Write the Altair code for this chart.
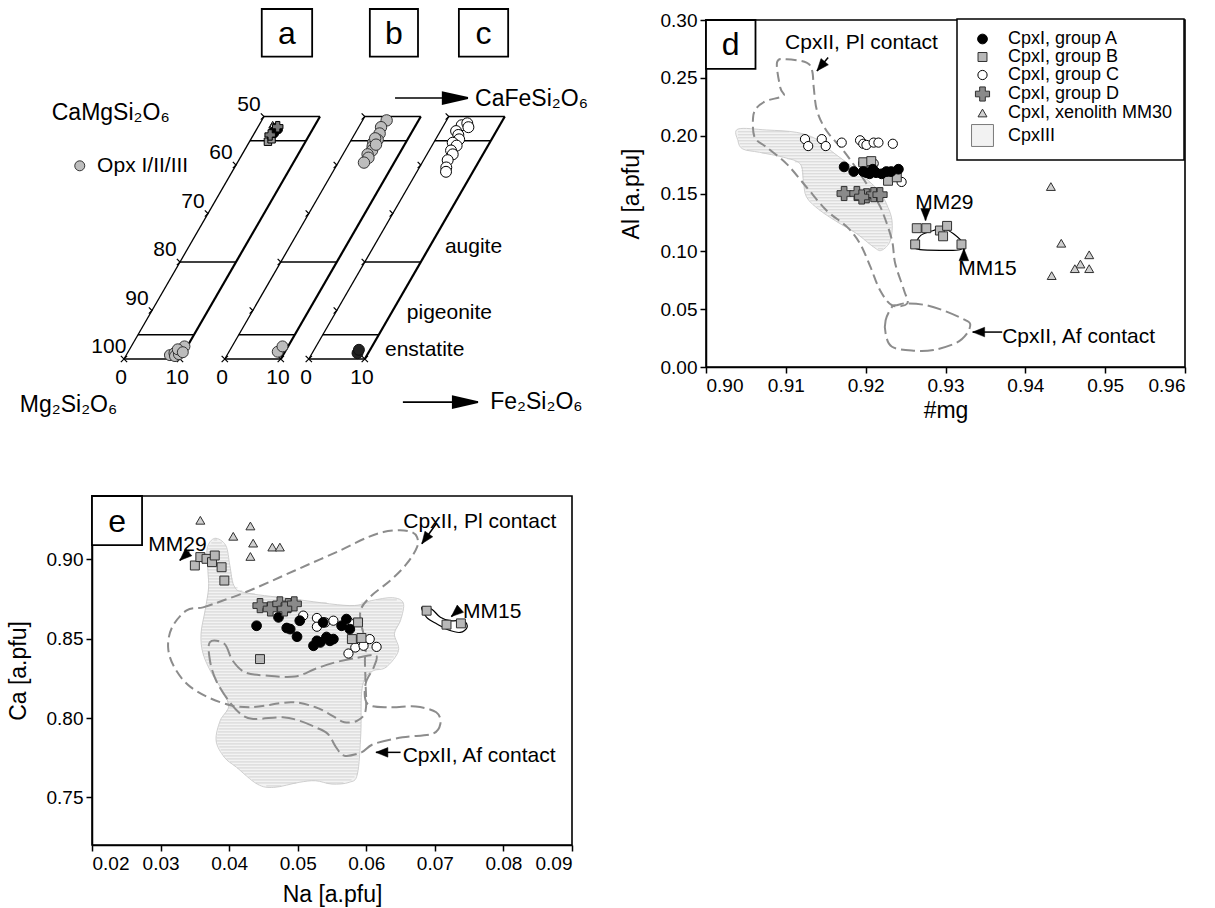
import math
import altair as alt
import numpy as np
import pandas as pd

FONT = "Liberation Sans, DejaVu Sans"
S3 = math.sqrt(3) / 2
W_ALL, H_ALL = 1215, 908

# ======================= panels a, b, c : Wo-En-Fs quadrilateral =======================
panel_offsets = [0, 18, 33]          # horizontal offset (Fs units) of panels a, b, c
panel_letters = ["a", "b", "c"]
fs_max = 10
wo_max = 50
boundary_wo = [0, 5, 20, 45, 50]
tick_wo = [10, 20, 30, 40, 50]
en_wo = [50, 40, 30, 20, 10, 0]
en_labels = ["50", "60", "70", "80", "90", "100"]

a_A_fs = [3.2, 3.6, 3.9]
a_A_wo = [47.0, 46.5, 47.3]
a_B_fs = [3.3, 3.7]
a_B_wo = [44.8, 45.3]
a_C_fs = [2.9]
a_C_wo = [47.8]
a_D_fs = [3.0, 3.5]
a_D_wo = [46.2, 47.9]
a_T_fs = [2.4, 2.7]
a_T_wo = [48.3, 47.6]
a_opx_fs = [7.8, 8.4, 8.8, 9.0, 9.3, 9.5, 8.6, 9.8]
a_opx_wo = [0.8, 1.2, 0.6, 1.8, 1.0, 2.6, 2.0, 1.4]
b_cpx_fs = [4.3, 4.0, 4.4, 4.7, 4.2, 4.5, 4.8, 4.4, 4.9, 4.6, 4.1, 4.9]
b_cpx_wo = [49.2, 47.8, 46.5, 45.2, 44.6, 43.8, 43.0, 42.2, 41.5, 40.5, 45.5, 44.2]
b_opx_fs = [8.7, 9.0]
b_opx_wo = [1.5, 2.6]
c_cpx_fs = [3.2, 4.0, 4.6, 2.8, 3.6, 4.2, 3.4, 4.4, 3.9, 4.6, 4.3, 4.8, 5.2]
c_cpx_wo = [48.2, 48.6, 47.8, 47.0, 46.2, 45.3, 44.6, 44.0, 43.0, 42.2, 41.0, 39.5, 38.6]
c_opx_fs = [8.1, 8.0]
c_opx_wo = [1.2, 1.9]

# annotation positions in diagram units (u = offset + Fs + Wo/2, v = Wo*sqrt(3)/2)
abc_formula = ["CaMgSi₂O₆", "Mg₂Si₂O₆", "CaFeSi₂O₆", "Fe₂Si₂O₆"]
abc_formula_u = [-12.9, -18.6, 62.7, 65.4]
abc_formula_v = [43.9, -8.2, 46.4, -7.7]
abc_text = ["Opx I/II/III", "augite", "pigeonite", "enstatite"]
abc_text_u = [-4.8, 57.3, 50.5, 46.6]
abc_text_v = [34.5, 20.0, 8.2, 1.6]
opx_key_u = [-7.9]
opx_key_v = [34.5]
abc_arrow_u1 = [48.4, 49.8]
abc_arrow_u2 = [61.4, 63.2]
abc_arrow_v = [46.6, -7.7]
abc_box_u1 = [24.6, 43.9, 59.8]
abc_box_u2 = [33.6, 52.5, 68.6]
abc_box_v1 = [54.0, 54.0, 54.0]
abc_box_v2 = [62.5, 62.5, 62.5]

# ======================= panel d : Al vs #mg =======================
d_A_mg = [0.9173, 0.9185, 0.9197, 0.9205, 0.9213, 0.9220, 0.9226, 0.9232, 0.9241, 0.9209, 0.9201]
d_A_al = [0.173, 0.169, 0.169, 0.167, 0.168, 0.167, 0.169, 0.169, 0.171, 0.171, 0.168]
d_B_mg = [0.9197, 0.9207, 0.9228, 0.9239, 0.9264, 0.9276, 0.9293, 0.9302, 0.9297, 0.9262, 0.9320]
d_B_al = [0.177, 0.178, 0.161, 0.164, 0.120, 0.120, 0.118, 0.122, 0.113, 0.106, 0.106]
d_C_mg = [0.9124, 0.9128, 0.9145, 0.9150, 0.9170, 0.9193, 0.9197, 0.9201, 0.9210, 0.9216, 0.9234, 0.9245, 0.9197, 0.9210]
d_C_al = [0.197, 0.191, 0.197, 0.191, 0.194, 0.196, 0.193, 0.192, 0.194, 0.194, 0.193, 0.160, 0.176, 0.176]
d_D_mg = [0.9173, 0.9189, 0.9201, 0.9210, 0.9218, 0.9195]
d_D_al = [0.150, 0.150, 0.148, 0.149, 0.149, 0.147]
d_T_mg = [0.9432, 0.9445, 0.9480, 0.9469, 0.9462, 0.9480, 0.9433]
d_T_al = [0.156, 0.107, 0.097, 0.089, 0.085, 0.085, 0.079]

d_III_mg = [0.9040, 0.9076, 0.9113, 0.9138, 0.9159, 0.9184, 0.9201, 0.9218, 0.9226, 0.9233, 0.9231, 0.9220,
            0.9210, 0.9189, 0.9168, 0.9143, 0.9126, 0.9122, 0.9118, 0.9097, 0.9067, 0.9046, 0.9040]
d_III_al = [0.2057, 0.2049, 0.2029, 0.1971, 0.1856, 0.1727, 0.1626, 0.1511, 0.1411, 0.1267, 0.1095, 0.1009,
            0.1037, 0.1152, 0.1239, 0.1353, 0.1468, 0.1612, 0.1756, 0.1813, 0.1856, 0.1885, 0.1957]
d_pl_mg = [0.9089, 0.9101, 0.9126, 0.9133, 0.9135, 0.9139, 0.9151, 0.9172, 0.9193, 0.9214, 0.9222, 0.9233,
           0.9237, 0.9248, 0.9252, 0.9233, 0.9218, 0.9206, 0.9193, 0.9177, 0.9151, 0.9126, 0.9101, 0.9076,
           0.9061, 0.9059, 0.9064, 0.9076, 0.9097, 0.9093]
d_pl_al = [0.2634, 0.2660, 0.2632, 0.2560, 0.2416, 0.2216, 0.2043, 0.1871, 0.1670, 0.1440, 0.1325, 0.1095,
           0.0894, 0.0664, 0.0549, 0.0534, 0.0664, 0.0865, 0.1066, 0.1209, 0.1353, 0.1554, 0.1756, 0.1899,
           0.1985, 0.2158, 0.2244, 0.2302, 0.2345, 0.2416]
d_af_mg = [0.9233, 0.9225, 0.9225, 0.9233, 0.9260, 0.9285, 0.9314, 0.9327, 0.9331, 0.9325, 0.9302, 0.9276, 0.9251, 0.9239]
d_af_al = [0.0520, 0.0405, 0.0290, 0.0175, 0.0141, 0.0147, 0.0210, 0.0290, 0.0370, 0.0405, 0.0477, 0.0534, 0.0549, 0.0534]
d_loop_mg = [0.9262, 0.9269, 0.9285, 0.9297, 0.9310, 0.9322, 0.9318, 0.9293, 0.9268, 0.9260]
d_loop_al = [0.1060, 0.1138, 0.1180, 0.1195, 0.1152, 0.1066, 0.1014, 0.1009, 0.1014, 0.1037]

d_note = ["CpxII, Pl contact", "CpxII, Af contact", "MM29", "MM15"]
d_note_mg = [0.9099, 0.9371, 0.9262, 0.9316]
d_note_al = [0.2802, 0.0259, 0.1414, 0.0845]
d_arr_mg1 = [0.9153, 0.9275, 0.9323, 0.9371]
d_arr_al1 = [0.2675, 0.1335, 0.0930, 0.0302]
d_arr_mg2 = [0.9139, 0.9275, 0.9323, 0.9334]
d_arr_al2 = [0.2560, 0.1267, 0.1023, 0.0302]

# ======================= panel e : Ca vs Na =======================
e_A_na = [0.0440, 0.0472, 0.0484, 0.0489, 0.0499, 0.0503, 0.0523, 0.0533, 0.0542, 0.0547, 0.0552, 0.0537, 0.0564, 0.0571, 0.0576, 0.0528]
e_A_ca = [0.8582, 0.8635, 0.8568, 0.8561, 0.8513, 0.8614, 0.8456, 0.8477, 0.8508, 0.8487, 0.8498, 0.8603, 0.8582, 0.8624, 0.8561, 0.8487]
e_B_na = [0.0588, 0.0579, 0.0593, 0.0445, 0.0688, 0.0717, 0.0738, 0.0350, 0.0358, 0.0367, 0.0375, 0.0379, 0.0389, 0.0393]
e_B_ca = [0.8603, 0.8498, 0.8505, 0.8372, 0.8677, 0.8589, 0.8597, 0.8962, 0.9015, 0.9004, 0.8983, 0.9025, 0.8951, 0.8867]
e_C_na = [0.0508, 0.0528, 0.0528, 0.0540, 0.0552, 0.0542, 0.0575, 0.0574, 0.0584, 0.0596, 0.0605, 0.0615]
e_C_ca = [0.8646, 0.8631, 0.8576, 0.8603, 0.8614, 0.8513, 0.8603, 0.8407, 0.8445, 0.8456, 0.8498, 0.8449]
e_D_na = [0.0445, 0.0460, 0.0474, 0.0486, 0.0495, 0.0481]
e_D_ca = [0.8709, 0.8688, 0.8720, 0.8709, 0.8720, 0.8688]
e_T_na = [0.0358, 0.0406, 0.0431, 0.0435, 0.0431, 0.0463, 0.0474]
e_T_ca = [0.9247, 0.9146, 0.9211, 0.9103, 0.9019, 0.9078, 0.9078]

e_III_na = [0.0368, 0.0379, 0.0395, 0.0401, 0.0407, 0.0423, 0.0489, 0.0576, 0.0608, 0.0638, 0.0654, 0.0650,
            0.0641, 0.0647, 0.0629, 0.0611, 0.0599, 0.0593, 0.0592, 0.0587, 0.0575, 0.0550, 0.0526, 0.0502,
            0.0465, 0.0441, 0.0411, 0.0393, 0.0381, 0.0387, 0.0399, 0.0393, 0.0375, 0.0362, 0.0359, 0.0365,
            0.0370, 0.0369]
e_III_ca = [0.9070, 0.9133, 0.9089, 0.8962, 0.8835, 0.8791, 0.8753, 0.8709, 0.8741, 0.8759, 0.8725, 0.8616,
            0.8532, 0.8426, 0.8321, 0.8300, 0.8258, 0.8153, 0.7900, 0.7647, 0.7595, 0.7584, 0.7605, 0.7595,
            0.7563, 0.7584, 0.7689, 0.7753, 0.7858, 0.7984, 0.8068, 0.8153, 0.8279, 0.8405, 0.8532, 0.8680,
            0.8820, 0.8930]
e_pl_na = [0.0338, 0.0362, 0.0391, 0.0430, 0.0474, 0.0518, 0.0562, 0.0600, 0.0625, 0.0649, 0.0666, 0.0674,
           0.0674, 0.0659, 0.0635, 0.0605, 0.0591, 0.0599, 0.0598, 0.0599, 0.0599, 0.0587, 0.0568, 0.0550,
           0.0526, 0.0490, 0.0429, 0.0387, 0.0344, 0.0320, 0.0311, 0.0317]
e_pl_ca = [0.8679, 0.8698, 0.8741, 0.8804, 0.8888, 0.8973, 0.9057, 0.9136, 0.9173, 0.9184, 0.9173, 0.9141,
           0.9078, 0.8973, 0.8867, 0.8761, 0.8658, 0.8468, 0.8363, 0.8216, 0.8047, 0.7984, 0.7974, 0.8016,
           0.8068, 0.8100, 0.8068, 0.8100, 0.8195, 0.8321, 0.8447, 0.8574]
e_af_na = [0.0372, 0.0393, 0.0405, 0.0423, 0.0453, 0.0496, 0.0526, 0.0556, 0.0587, 0.0614, 0.0611, 0.0599,
           0.0602, 0.0635, 0.0672, 0.0702, 0.0708, 0.0696, 0.0653, 0.0611, 0.0593, 0.0568, 0.0556, 0.0544,
           0.0526, 0.0502, 0.0478, 0.0435, 0.0417, 0.0399, 0.0381, 0.0372]
e_af_ca = [0.8479, 0.8468, 0.8363, 0.8289, 0.8268, 0.8262, 0.8311, 0.8353, 0.8380, 0.8395, 0.8321, 0.8216,
           0.8089, 0.8068, 0.8073, 0.8037, 0.7963, 0.7900, 0.7879, 0.7837, 0.7784, 0.7763, 0.7816, 0.7900,
           0.7942, 0.7984, 0.8005, 0.7995, 0.8026, 0.8111, 0.8237, 0.8363]
e_loop_na = [0.0681, 0.0695, 0.0708, 0.0722, 0.0742, 0.0747, 0.0737, 0.0720, 0.0703, 0.0688]
e_loop_ca = [0.8698, 0.8688, 0.8635, 0.8614, 0.8614, 0.8572, 0.8540, 0.8555, 0.8593, 0.8635]

e_note = ["CpxII, Pl contact", "CpxII, Af contact", "MM29", "MM15"]
e_note_na = [0.0654, 0.0653, 0.0282, 0.0741]
e_note_ca = [0.9234, 0.7763, 0.9089, 0.8666]
e_arr_na1 = [0.0702, 0.0650, 0.0342, 0.0736]
e_arr_ca1 = [0.9225, 0.7784, 0.9050, 0.8685]
e_arr_na2 = [0.0681, 0.0614, 0.0328, 0.0724]
e_arr_ca2 = [0.9099, 0.7784, 0.8994, 0.8640]

# ======================= styles =======================
groups = ["CpxI, group A", "CpxI, group B", "CpxI, group C", "CpxI, group D", "CpxI, xenolith MM30", "CpxIII"]
g_shapes = ["circle", "square", "circle", "cross", "triangle-up", "square"]
g_fills = ["black", "#b8b8b8", "white", "#8a8a8a", "#d0d0d0", "#f2f2f2"]
g_strokes = ["black", "#303030", "black", "#303030", "#303030", "#7a7a7a"]
g_sizes = [95, 80, 85, 200, 80, 480]

ARROW_S = "M -2 -0.8 L 0 0 L -2 0.8 Z"
ARROW_L = "M -2 -0.45 L 0 0 L -2 0.45 Z"
CHEVRON = "M -1 -1 L 0 0 L -1 1"
XMARK = "M -1 -1 L 1 1 M -1 1 L 1 -1"
NOTE_FS = 21


def poly(xs, ys):
    return pd.DataFrame({"x": xs, "y": ys, "i": list(range(len(xs)))})


def hatch(xs, ys, step):
    pts = list(zip(xs, ys))
    rows = []
    for yy in np.arange(min(ys) + step / 2, max(ys), step):
        cr = []
        for (xa, ya), (xb, yb) in zip(pts, pts[1:] + pts[:1]):
            if (ya <= yy < yb) or (yb <= yy < ya):
                cr.append(xa + (yy - ya) * (xb - xa) / (yb - ya))
        cr.sort()
        for k in range(0, len(cr) - 1, 2):
            rows.append({"x": cr[k], "x2": cr[k + 1], "y": yy})
    return pd.DataFrame(rows)


def arrows(x1, y1, x2, y2, kx, ky):
    ang = [math.degrees(math.atan2(-(b2 - b1) * ky, (a2 - a1) * kx)) % 360
           for a1, b1, a2, b2 in zip(x1, y1, x2, y2)]
    return pd.DataFrame({"x1": x1, "y1": y1, "x2": x2, "y2": y2, "ang": ang})


def points_df(sets):
    rows = []
    for g, xs, ys in sets:
        for a, b in zip(xs, ys):
            rows.append({"g": g, "x": a, "y": b})
    return pd.DataFrame(rows)


LEG = alt.Legend(title=None, orient="none", legendX=957, legendY=19, strokeColor="black", fillColor="white",
                 padding=11, labelFont=FONT, labelFontSize=18, labelLimit=400, rowPadding=0,
                 symbolStrokeWidth=1, labelOffset=14, symbolOffset=3)


def scatter_panel(X, Y, frame, region, dashed, loop, pts, notes, arr, box, letter, kx, ky, hstep):
    layers = []
    fx1, fx2, fy1, fy2 = frame
    layers.append(alt.Chart(pd.DataFrame({"x": [fx1], "x2": [fx2], "y": [fy1], "y2": [fy2]})).mark_rect(
        fillOpacity=0, stroke="black", strokeWidth=1.6).encode(x=X("x"), x2="x2:Q", y=Y("y"), y2="y2:Q"))
    hx, hy = region
    layers.append(alt.Chart(poly(hx, hy)).mark_line(
        interpolate="cardinal-closed", fill="#f3f3f3", stroke="#cfcfcf", strokeWidth=1
    ).encode(x=X("x"), y=Y("y"), order="i:Q"))
    layers.append(alt.Chart(hatch(hx, hy, hstep)).mark_rule(color="#c6c6c6", strokeWidth=0.7).encode(
        x=X("x"), x2="x2:Q", y=Y("y")))
    for (xs, ys), dash in zip(dashed, ([10, 5], [14, 5])):
        layers.append(alt.Chart(poly(xs, ys)).mark_line(
            interpolate="cardinal-closed", stroke="#8c8c8c", strokeWidth=2, strokeDash=dash
        ).encode(x=X("x"), y=Y("y"), order="i:Q"))
    lx, ly = loop
    layers.append(alt.Chart(poly(lx, ly)).mark_line(
        interpolate="cardinal-closed", stroke="black", strokeWidth=1.2
    ).encode(x=X("x"), y=Y("y"), order="i:Q"))
    layers.append(alt.Chart(pts).mark_point(filled=True, opacity=1, strokeWidth=1).encode(
        x=X("x"), y=Y("y"),
        shape=alt.Shape("g:N", scale=alt.Scale(domain=groups, range=g_shapes), legend=LEG),
        fill=alt.Fill("g:N", scale=alt.Scale(domain=groups, range=g_fills), legend=LEG),
        stroke=alt.Stroke("g:N", scale=alt.Scale(domain=groups, range=g_strokes), legend=LEG),
        size=alt.Size("g:N", scale=alt.Scale(type="ordinal", domain=groups, range=g_sizes), legend=LEG),
    ))
    ax1, ay1, ax2, ay2 = arr
    adf = arrows(ax1, ay1, ax2, ay2, kx, ky)
    layers.append(alt.Chart(adf).mark_rule(color="black", strokeWidth=1.5).encode(
        x=X("x1"), y=Y("y1"), x2="x2:Q", y2="y2:Q"))
    layers.append(alt.Chart(adf).mark_point(shape=ARROW_S, filled=True, fill="black", stroke="black",
                                            strokeWidth=0.5, size=144, opacity=1).encode(
        x=X("x2"), y=Y("y2"), angle=alt.Angle("ang:Q", scale=None)))
    nt, nx, ny = notes
    layers.append(alt.Chart(pd.DataFrame({"t": nt, "x": nx, "y": ny})).mark_text(
        align="left", baseline="middle", font=FONT, fontSize=NOTE_FS, color="black"
    ).encode(x=X("x"), y=Y("y"), text="t:N"))
    bx1, bx2, by1, by2 = box
    layers.append(alt.Chart(pd.DataFrame({"x": [bx1], "x2": [bx2], "y": [by1], "y2": [by2]})).mark_rect(
        fill="white", stroke="black", strokeWidth=1.8).encode(x=X("x"), x2="x2:Q", y=Y("y"), y2="y2:Q"))
    layers.append(alt.Chart(pd.DataFrame({"t": [letter], "x": [(bx1 + bx2) / 2], "y": [(by1 + by2) / 2]})).mark_text(
        align="center", baseline="middle", font=FONT, fontSize=32, color="black", dy=1
    ).encode(x=X("x"), y=Y("y"), text="t:N"))
    return alt.layer(*layers)


# ---------------- panel d (pixel frame: x 706..1185, y 367..20) ----------------
D_L, D_R, D_B, D_T = 706, 1185, 367, 20
D_XS = alt.Scale(domain=[0.90, 0.96], range=[D_L, D_R], nice=False, zero=False)
D_YS = alt.Scale(domain=[0.0, 0.30], range=[D_B, D_T], nice=False, zero=False)
D_XA = alt.Axis(title="#mg", orient="bottom", offset=D_B - H_ALL, titlePadding=4,
                values=[0.90, 0.91, 0.92, 0.93, 0.94, 0.95, 0.96], format=".2f")
D_YA = alt.Axis(title="Al [a.pfu]", orient="left", offset=-D_L, titlePadding=17,
                values=[0.0, 0.05, 0.10, 0.15, 0.20, 0.25, 0.30], format=".2f")


def DX(f):
    return alt.X(f + ":Q", scale=D_XS, axis=D_XA)


def DY(f):
    return alt.Y(f + ":Q", scale=D_YS, axis=D_YA)


d_pts = points_df([
    (groups[4], d_T_mg, d_T_al), (groups[2], d_C_mg, d_C_al), (groups[1], d_B_mg, d_B_al),
    (groups[0], d_A_mg, d_A_al), (groups[3], d_D_mg, d_D_al)])
panel_d = scatter_panel(
    DX, DY, (0.90, 0.96, 0.0, 0.30), (d_III_mg, d_III_al), [(d_pl_mg, d_pl_al), (d_af_mg, d_af_al)],
    (d_loop_mg, d_loop_al), d_pts, (d_note, d_note_mg, d_note_al),
    (d_arr_mg1, d_arr_al1, d_arr_mg2, d_arr_al2), (0.90, 0.9062, 0.2578, 0.30), "d",
    (D_R - D_L) / 0.06, (D_B - D_T) / 0.30, 3 * 0.30 / (D_B - D_T))

# ---------------- panel e (pixel frame: x 92..572, y 845..496) ----------------
E_L, E_R, E_B, E_T = 92, 572, 845, 496
E_XS = alt.Scale(domain=[0.02, 0.09], range=[E_L, E_R], nice=False, zero=False)
E_YS = alt.Scale(domain=[0.72, 0.94], range=[E_B, E_T], nice=False, zero=False)
E_XA = alt.Axis(title="Na [a.pfu]", orient="bottom", offset=E_B - H_ALL, titlePadding=10,
                values=[0.02, 0.03, 0.04, 0.05, 0.06, 0.07, 0.08, 0.09], format=".2f")
E_YA = alt.Axis(title="Ca [a.pfu]", orient="left", offset=-E_L, titlePadding=16,
                values=[0.75, 0.80, 0.85, 0.90], format=".2f")


def EX(f):
    return alt.X(f + ":Q", scale=E_XS, axis=E_XA)


def EY(f):
    return alt.Y(f + ":Q", scale=E_YS, axis=E_YA)


e_pts = points_df([
    (groups[4], e_T_na, e_T_ca), (groups[2], e_C_na, e_C_ca), (groups[1], e_B_na, e_B_ca),
    (groups[0], e_A_na, e_A_ca), (groups[3], e_D_na, e_D_ca)])
panel_e = scatter_panel(
    EX, EY, (0.02, 0.09, 0.72, 0.94), (e_III_na, e_III_ca), [(e_pl_na, e_pl_ca), (e_af_na, e_af_ca)],
    (e_loop_na, e_loop_ca), e_pts, (e_note, e_note_na, e_note_ca),
    (e_arr_na1, e_arr_ca1, e_arr_na2, e_arr_ca2), (0.02, 0.0273, 0.909, 0.94), "e",
    (E_R - E_L) / 0.07, (E_B - E_T) / 0.22, 3 * 0.22 / (E_B - E_T))

# ---------------- panels a-c (5.6 px per unit, origin of panel a at 124,359) ----------------
ABC_XS = alt.Scale(domain=[0, 100], range=[124, 124 + 560], nice=False, zero=False)
ABC_YS = alt.Scale(domain=[0, 50], range=[359, 359 - 280], nice=False, zero=False)


def AX(f):
    return alt.X(f + ":Q", scale=ABC_XS, axis=None)


def AY(f):
    return alt.Y(f + ":Q", scale=ABC_YS, axis=None)


def uv(off, fs, wo):
    return off + fs + wo / 2, wo * S3


edge_rows, thick_rows, chev_rows, x_rows, num_rows = [], [], [], [], []
for off in panel_offsets:
    u1, v1 = uv(off, 0, 0)
    u2, v2 = uv(off, 0, wo_max)
    edge_rows.append({"x1": u1, "y1": v1, "x2": u2, "y2": v2})
    u1, v1 = uv(off, fs_max, 0)
    u2, v2 = uv(off, fs_max, wo_max)
    thick_rows.append({"x1": u1, "y1": v1, "x2": u2, "y2": v2})
    for w in boundary_wo:
        u1, v1 = uv(off, 0, w)
        u2, v2 = uv(off, fs_max, w)
        edge_rows.append({"x1": u1, "y1": v1, "x2": u2, "y2": v2})
    for w in tick_wo:
        u, v = uv(off, 0, w)
        chev_rows.append({"x": u, "y": v})
    for f in (0, fs_max):
        u, v = uv(off, f, 0)
        x_rows.append({"x": u, "y": v})
        num_rows.append({"x": u - 0.5, "y": v - 3.4, "t": str(f)})
en_rows = []
for w, lab in zip(en_wo, en_labels):
    u, v = uv(panel_offsets[0], 0, w)
    en_rows.append({"x": u - 2.7, "y": v + 2.1, "t": lab})


def abc_pts(off, fs, wo):
    return pd.DataFrame([{"x": uv(off, f, w)[0], "y": uv(off, f, w)[1]} for f, w in zip(fs, wo)])


abc_layers = [
    alt.Chart(pd.DataFrame(edge_rows)).mark_rule(color="black", strokeWidth=1.3).encode(
        x=AX("x1"), y=AY("y1"), x2="x2:Q", y2="y2:Q"),
    alt.Chart(pd.DataFrame(thick_rows)).mark_rule(color="black", strokeWidth=2.2).encode(
        x=AX("x1"), y=AY("y1"), x2="x2:Q", y2="y2:Q"),
    alt.Chart(pd.DataFrame(chev_rows)).mark_point(shape=CHEVRON, filled=False, stroke="black",
                                                  strokeWidth=1.2, size=40, opacity=1).encode(
        x=AX("x"), y=AY("y")),
    alt.Chart(pd.DataFrame(x_rows)).mark_point(shape=XMARK, filled=False, stroke="black",
                                               strokeWidth=1.2, size=40, opacity=1).encode(
        x=AX("x"), y=AY("y")),
    alt.Chart(pd.DataFrame(num_rows + en_rows)).mark_text(
        align="center", baseline="middle", font=FONT, fontSize=21, color="black").encode(
        x=AX("x"), y=AY("y"), text="t:N"),
    alt.Chart(pd.DataFrame({"t": abc_text, "x": abc_text_u, "y": abc_text_v})).mark_text(
        align="left", baseline="middle", font=FONT, fontSize=21, color="black").encode(
        x=AX("x"), y=AY("y"), text="t:N"),
    alt.Chart(pd.DataFrame({"t": abc_formula, "x": abc_formula_u, "y": abc_formula_v})).mark_text(
        align="left", baseline="middle", font=FONT, fontSize=23, color="black").encode(
        x=AX("x"), y=AY("y"), text="t:N"),
]
abc_arr = pd.DataFrame({"x1": abc_arrow_u1, "x2": abc_arrow_u2, "y": abc_arrow_v})
abc_layers.append(alt.Chart(abc_arr).mark_rule(color="black", strokeWidth=1.6).encode(
    x=AX("x1"), x2="x2:Q", y=AY("y")))
abc_layers.append(alt.Chart(abc_arr).mark_point(shape=ARROW_L, filled=True, fill="black", stroke="black",
                                                size=625, opacity=1).encode(x=AX("x2"), y=AY("y")))
bdf = pd.DataFrame({"x": abc_box_u1, "x2": abc_box_u2, "y": abc_box_v1, "y2": abc_box_v2, "t": panel_letters})
bdf["cx"] = (bdf["x"] + bdf["x2"]) / 2
bdf["cy"] = (bdf["y"] + bdf["y2"]) / 2
abc_layers.append(alt.Chart(bdf).mark_rect(fill="white", stroke="black", strokeWidth=1.8).encode(
    x=AX("x"), x2="x2:Q", y=AY("y"), y2="y2:Q"))
abc_layers.append(alt.Chart(bdf).mark_text(align="center", baseline="middle", font=FONT, fontSize=32,
                                           color="black", dy=1).encode(x=AX("cx"), y=AY("cy"), text="t:N"))
style = [
    (abc_pts(0, a_opx_fs, a_opx_wo), "circle", "#bdbdbd", "#333333", 120),
    (abc_pts(18, b_opx_fs, b_opx_wo), "circle", "#bdbdbd", "#333333", 120),
    (abc_pts(33, c_opx_fs, c_opx_wo), "circle", "#222222", "#111111", 120),
    (abc_pts(18, b_cpx_fs, b_cpx_wo), "circle", "#bdbdbd", "#333333", 130),
    (abc_pts(33, c_cpx_fs, c_cpx_wo), "circle", "white", "black", 120),
    (abc_pts(0, a_T_fs, a_T_wo), "triangle-up", "#d0d0d0", "black", 60),
    (abc_pts(0, a_C_fs, a_C_wo), "circle", "white", "black", 60),
    (abc_pts(0, a_B_fs, a_B_wo), "square", "#9a9a9a", "black", 55),
    (abc_pts(0, a_A_fs, a_A_wo), "circle", "black", "black", 70),
    (abc_pts(0, a_D_fs, a_D_wo), "cross", "#777777", "black", 110),
    (pd.DataFrame({"x": opx_key_u, "y": opx_key_v}), "circle", "#bdbdbd", "#333333", 100),
]
for df_, shp, fc, sc_, sz in style:
    abc_layers.append(alt.Chart(df_).mark_point(shape=shp, filled=True, fill=fc, stroke=sc_, strokeWidth=1,
                                                size=sz, opacity=1).encode(x=AX("x"), y=AY("y")))
panel_abc = alt.layer(*abc_layers)

chart = alt.layer(panel_abc, panel_d, panel_e).resolve_scale(
    x="independent", y="independent"
).properties(
    width=W_ALL, height=H_ALL, padding=0, autosize=alt.AutoSizeParams(type="none")
).configure_view(stroke="transparent").configure_axis(
    labelFont=FONT, titleFont=FONT, labelFontSize=19, titleFontSize=23, titleFontWeight="normal",
    labelColor="black", titleColor="black", domainColor="black", tickColor="black",
    domainWidth=1.5, tickWidth=1.5, tickSize=6, labelPadding=3, grid=False
).configure_legend(strokeWidth=1.5)

chart.save("out.html", embed_options={"renderer": "svg", "actions": False})
